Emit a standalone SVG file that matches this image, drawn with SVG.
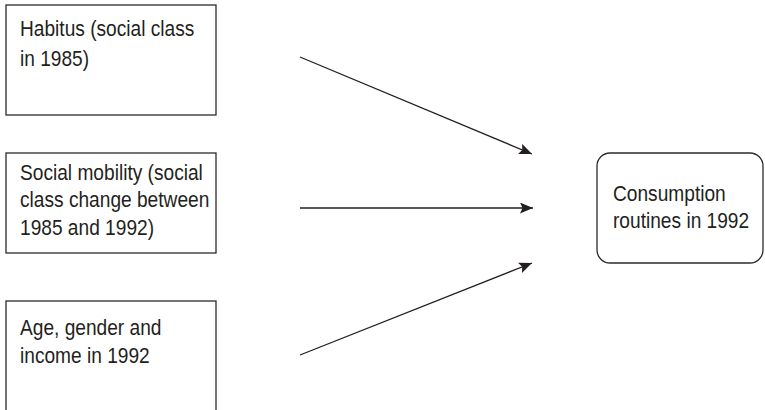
<svg xmlns="http://www.w3.org/2000/svg" width="765" height="410" viewBox="0 0 765 410">
<style>
.box{fill:#fff;stroke:#2b2b2b;stroke-width:1.3}
.t{font-family:"Liberation Sans",Arial,sans-serif;font-size:22px;fill:#231f20}
.c{stroke:#231f20;stroke-width:1.3;fill:none}
</style>
<defs>
<marker id="ah" viewBox="0 0 13 11" refX="13" refY="5.5" markerWidth="13" markerHeight="11" markerUnits="userSpaceOnUse" orient="auto">
<path d="M0,0 L13,5.5 L0,11 L2.5,5.5 Z" fill="#231f20"/>
</marker>
</defs>
<rect width="765" height="410" fill="#fff"/>
<g id="habitus">
<rect class="box" x="6" y="5" width="210" height="110"/>
<g transform="scale(0.87 1)">
<text class="t" x="23" y="36.5">Habitus (social class</text>
<text class="t" x="23" y="66">in 1985)</text>
</g>
</g>
<g id="mobility">
<rect class="box" x="6" y="153" width="210" height="100"/>
<g transform="scale(0.87 1)">
<text class="t" x="23" y="180">Social mobility (social</text>
<text class="t" x="23" y="207.5">class change between</text>
<text class="t" x="23" y="235">1985 and 1992)</text>
</g>
</g>
<g id="age">
<rect class="box" x="6" y="301" width="210" height="130"/>
<g transform="scale(0.87 1)">
<text class="t" x="23" y="335">Age, gender and</text>
<text class="t" x="23" y="363">income in 1992</text>
</g>
</g>
<g id="consumption">
<rect class="box" x="597" y="153" width="166" height="110" rx="13" ry="13"/>
<g transform="scale(0.87 1)">
<text class="t" x="704.6" y="201">Consumption</text>
<text class="t" x="704.6" y="228.5">routines in 1992</text>
</g>
</g>
<g id="connectors">
<line class="c" x1="300" y1="57" x2="532" y2="154" marker-end="url(#ah)"/>
<line class="c" x1="300" y1="208" x2="533" y2="208" marker-end="url(#ah)"/>
<line class="c" x1="300" y1="355" x2="532" y2="263" marker-end="url(#ah)"/>
</g>
</svg>
